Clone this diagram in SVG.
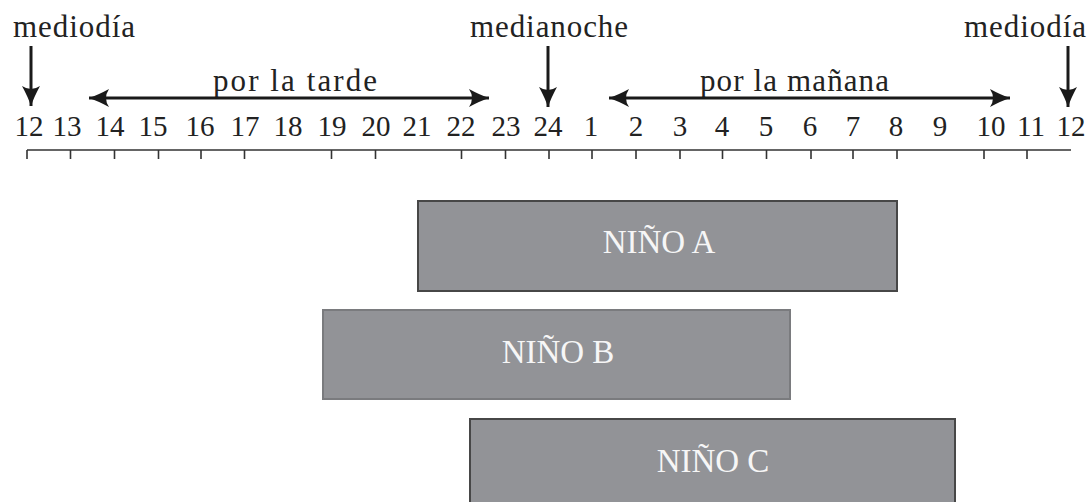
<svg xmlns="http://www.w3.org/2000/svg" width="1089" height="502" viewBox="0 0 1089 502">
<style>
.lbl{font-family:"Liberation Serif","Times New Roman",serif;font-size:31px;fill:#222;}
.num{font-family:"Liberation Serif","Times New Roman",serif;font-size:29px;fill:#222;text-anchor:middle;}
.box{fill:#929397;stroke:#474747;stroke-width:2;}
.btxt{font-family:"Liberation Serif","Times New Roman",serif;font-size:33px;fill:#f6f6f6;text-anchor:middle;}
.stem{stroke:#1a1a1a;stroke-width:3;fill:none;}
.axis{stroke:#333;stroke-width:1.6;fill:none;}
</style>
<defs>
<marker id="head" markerUnits="userSpaceOnUse" viewBox="-21 -10 22 20" refX="0" refY="0" markerWidth="22" markerHeight="20" orient="auto-start-reverse">
<path d="M0,0 Q-9,-3 -20,-9 Q-14,0 -20,9 Q-9,3 0,0 Z" fill="#1a1a1a"/>
</marker>
</defs>
<rect width="1089" height="502" fill="#ffffff"/>
<g id="labels">
<text class="lbl" x="13" y="37" textLength="122" lengthAdjust="spacing">mediodía</text>
<text class="lbl" x="470" y="37" textLength="158" lengthAdjust="spacing">medianoche</text>
<text class="lbl" x="964" y="37" textLength="122" lengthAdjust="spacing">mediodía</text>
<text class="lbl" x="213" y="91" textLength="164" lengthAdjust="spacing">por la tarde</text>
<text class="lbl" x="700" y="91" textLength="189" lengthAdjust="spacing">por la mañana</text>
</g>
<g id="connectors">
<line class="stem" x1="31" y1="46" x2="31" y2="106" marker-end="url(#head)"/>
<line class="stem" x1="548" y1="46" x2="548" y2="107" marker-end="url(#head)"/>
<line class="stem" x1="1068" y1="46" x2="1068" y2="107" marker-end="url(#head)"/>
<line class="stem" x1="89" y1="98" x2="489" y2="98" marker-start="url(#head)" marker-end="url(#head)"/>
<line class="stem" x1="609" y1="98" x2="1010" y2="98" marker-start="url(#head)" marker-end="url(#head)"/>
</g>
<g id="axis">
<path class="axis" d="M27,150 H1071 M27,150 V159 M70.5,150 V159 M114.5,150 V159 M158.5,150 V159 M201,150 V159 M244.5,150 V159 M331.5,150 V159 M375.5,150 V159 M461.5,150 V159 M505.5,150 V159 M549,150 V159 M592,150 V159 M636,150 V159 M680,150 V159 M722.5,150 V159 M766.5,150 V159 M811,150 V159 M853,150 V159 M897,150 V159 M984,150 V159 M1027,150 V159"/>
<text class="num" x="29" y="136">12</text>
<text class="num" x="67" y="136">13</text>
<text class="num" x="110" y="136">14</text>
<text class="num" x="153" y="136">15</text>
<text class="num" x="200" y="136">16</text>
<text class="num" x="245" y="136">17</text>
<text class="num" x="288" y="136">18</text>
<text class="num" x="332" y="136">19</text>
<text class="num" x="376" y="136">20</text>
<text class="num" x="417" y="136">21</text>
<text class="num" x="461" y="136">22</text>
<text class="num" x="506" y="136">23</text>
<text class="num" x="548" y="136">24</text>
<text class="num" x="591" y="136">1</text>
<text class="num" x="636" y="136">2</text>
<text class="num" x="680" y="136">3</text>
<text class="num" x="722" y="136">4</text>
<text class="num" x="766" y="136">5</text>
<text class="num" x="810" y="136">6</text>
<text class="num" x="853" y="136">7</text>
<text class="num" x="896" y="136">8</text>
<text class="num" x="940" y="136">9</text>
<text class="num" x="991" y="136">10</text>
<text class="num" x="1031" y="136">11</text>
<text class="num" x="1071" y="136">12</text>
</g>
<g id="nino-a">
<rect class="box" x="418" y="201" width="479" height="90"/>
<text class="btxt" x="659" y="253">NIÑO A</text>
</g>
<g id="nino-b">
<rect class="box" x="323" y="310" width="467" height="89" style="stroke:#7a7b7e"/>
<text class="btxt" x="558" y="363">NIÑO B</text>
</g>
<g id="nino-c">
<rect class="box" x="470" y="419" width="485" height="90"/>
<text class="btxt" x="713" y="472">NIÑO C</text>
</g>
</svg>
